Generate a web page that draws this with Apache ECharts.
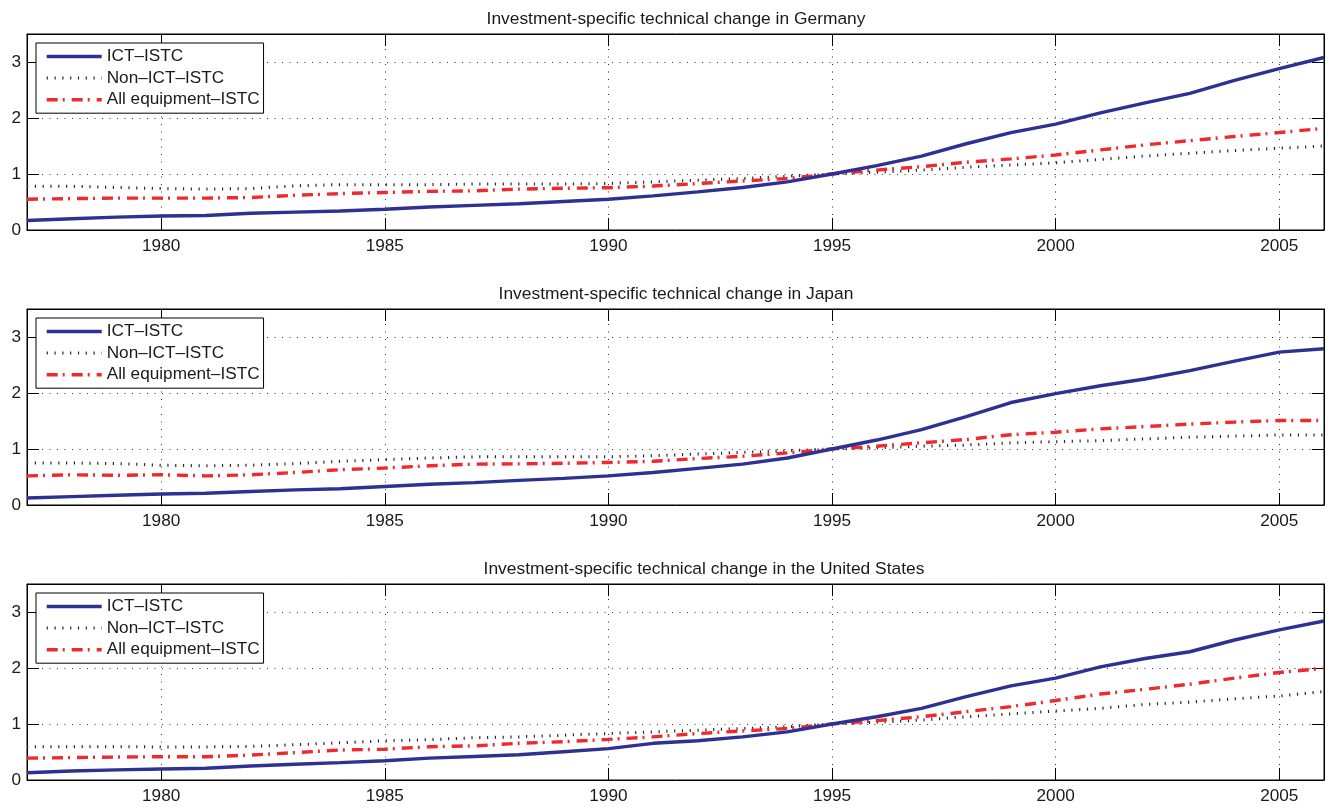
<!DOCTYPE html>
<html>
<head>
<meta charset="utf-8">
<script src="https://cdn.jsdelivr.net/npm/echarts@6/dist/echarts.min.js"></script>
<style>
html,body{margin:0;padding:0;background:#fff;}
#chart{width:1331px;height:808px;}
</style>
</head>
<body>
<div id="chart"></div>
<script>
// ---- data ----
var years = [1977,1978,1979,1980,1981,1982,1983,1984,1985,1986,1987,1988,1989,1990,1991,1992,1993,1994,1995,1996,1997,1998,1999,2000,2001,2002,2003,2004,2005,2006];

var seriesNames = ['ICT\u2013ISTC', 'Non\u2013ICT\u2013ISTC', 'All equipment\u2013ISTC'];
var panelTitles = [
  'Investment-specific technical change in Germany',
  'Investment-specific technical change in Japan',
  'Investment-specific technical change in the United States'
];
var yTicks = [0, 1, 2, 3];
var xTickYears = [1980, 1985, 1990, 1995, 2000, 2005];

var germanyICT    = [0.17,0.20,0.23,0.25,0.26,0.30,0.32,0.34,0.37,0.41,0.44,0.47,0.51,0.55,0.61,0.68,0.76,0.86,1.00,1.15,1.32,1.54,1.74,1.89,2.09,2.27,2.44,2.67,2.88,3.08];
var germanyNonICT = [0.78,0.78,0.76,0.74,0.73,0.74,0.79,0.81,0.81,0.81,0.82,0.82,0.82,0.83,0.86,0.89,0.92,0.96,1.00,1.03,1.07,1.12,1.16,1.20,1.26,1.32,1.37,1.42,1.46,1.50];
var germanyAll    = [0.55,0.56,0.57,0.57,0.57,0.58,0.62,0.65,0.67,0.69,0.70,0.73,0.745,0.755,0.785,0.83,0.875,0.92,1.00,1.07,1.13,1.21,1.27,1.34,1.43,1.52,1.595,1.67,1.74,1.815];

var japanICT      = [0.125,0.15,0.175,0.196,0.21,0.24,0.27,0.29,0.33,0.37,0.40,0.44,0.475,0.52,0.58,0.655,0.73,0.84,1.00,1.16,1.345,1.58,1.83,1.99,2.13,2.25,2.40,2.57,2.73,2.79];
var japanNonICT   = [0.75,0.75,0.74,0.71,0.70,0.71,0.74,0.78,0.81,0.84,0.86,0.86,0.86,0.86,0.88,0.91,0.94,0.97,1.00,1.02,1.05,1.07,1.11,1.13,1.15,1.18,1.21,1.23,1.25,1.25];
var japanAll      = [0.52,0.54,0.53,0.54,0.52,0.54,0.58,0.63,0.66,0.70,0.73,0.735,0.745,0.76,0.78,0.83,0.87,0.93,1.00,1.05,1.11,1.17,1.255,1.30,1.36,1.40,1.445,1.48,1.51,1.51];

var usICT         = [0.13,0.16,0.18,0.196,0.21,0.25,0.28,0.31,0.345,0.39,0.42,0.45,0.505,0.56,0.655,0.70,0.77,0.86,1.00,1.13,1.28,1.49,1.68,1.82,2.02,2.17,2.29,2.50,2.68,2.84];
var usNonICT      = [0.595,0.595,0.595,0.59,0.59,0.60,0.63,0.665,0.70,0.72,0.755,0.77,0.80,0.83,0.86,0.89,0.92,0.95,1.00,1.03,1.07,1.13,1.18,1.23,1.28,1.35,1.39,1.45,1.50,1.58];
var usAll         = [0.39,0.40,0.41,0.415,0.415,0.445,0.49,0.535,0.55,0.595,0.61,0.655,0.685,0.725,0.77,0.83,0.875,0.92,1.00,1.06,1.13,1.22,1.31,1.42,1.535,1.62,1.71,1.82,1.92,1.995];

// ---- layout / style ----
var FONT = '"Liberation Sans", Arial, Helvetica, sans-serif';
var TXT = '#1a1a1a';
var panels = [
  {title: panelTitles[0], titleX: 671, titleTop: 4,   gridTop: 34,  legendTop: 43,  data: [germanyICT, germanyNonICT, germanyAll]},
  {title: panelTitles[1], titleX: 671, titleTop: 279, gridTop: 309, legendTop: 318, data: [japanICT, japanNonICT, japanAll]},
  {title: panelTitles[2], titleX: 699, titleTop: 554, gridTop: 584, legendTop: 593, data: [usICT, usNonICT, usAll]}
];
var GRID_LEFT = 27, GRID_W = 1297, GRID_H = 196;

var lineStyles = [
  {color: '#2e3192', width: 3.4, type: 'solid'},
  {color: '#2a2a2a', width: 3, type: [1.2, 6.6], cap: 'butt'},
  {color: '#ee2a2f', width: 3.4, type: [11, 5, 2, 7], cap: 'butt'}
];

function pairs(vals) {
  return years.map(function (y, i) { return [y, vals[i]]; });
}

var option = {
  animation: false,
  backgroundColor: '#fff',
  title: [], grid: [], xAxis: [], yAxis: [], legend: [], series: []
};

panels.forEach(function (p, k) {
  option.title.push({
    text: p.title, left: p.titleX, top: p.titleTop, textAlign: 'center',
    textStyle: {fontFamily: FONT, fontSize: 17.4, fontWeight: 'normal', color: TXT, lineHeight: 20}
  });
  option.grid.push({
    left: GRID_LEFT, top: p.gridTop, width: GRID_W, height: GRID_H,
    show: true, borderColor: '#000', borderWidth: 1, backgroundColor: '#fff'
  });
  option.xAxis.push({
    type: 'value', gridIndex: k, min: 1977, max: 2006, position: 'bottom',
    axisLine: {show: true, onZero: false, lineStyle: {color: '#000', width: 1}},
    axisTick: {show: true, inside: true, length: 12, lineStyle: {color: '#000'}},
    axisLabel: {show: true, margin: 8, showMinLabel: false, showMaxLabel: false,
      fontFamily: FONT, fontSize: 17.2, color: TXT,
      formatter: function (v) { return xTickYears.indexOf(v) >= 0 ? String(v) : ''; }},
    splitLine: {show: true, lineStyle: {color: '#333', width: 1, type: [1, 6.5]}}
  });
  option.xAxis.push({
    type: 'value', gridIndex: k, min: 1977, max: 2006, position: 'top',
    axisLine: {show: true, onZero: false, lineStyle: {color: '#000', width: 1}},
    axisTick: {show: true, inside: true, length: 12, lineStyle: {color: '#000'}},
    axisLabel: {show: false}, splitLine: {show: false}
  });
  option.yAxis.push({
    type: 'value', gridIndex: k, min: 0, max: 3.5, interval: 1, position: 'left',
    axisLine: {show: true, onZero: false, lineStyle: {color: '#000', width: 1}},
    axisTick: {show: true, inside: true, length: 12, lineStyle: {color: '#000'}},
    axisLabel: {show: true, margin: 6, showMaxLabel: false,
      fontFamily: FONT, fontSize: 17.2, color: TXT,
      formatter: function (v) { return yTicks.indexOf(v) >= 0 ? String(v) : ''; }},
    splitLine: {show: true, lineStyle: {color: '#333', width: 1, type: [1, 6.5]}}
  });
  option.yAxis.push({
    type: 'value', gridIndex: k, min: 0, max: 3.5, interval: 1, position: 'right',
    axisLine: {show: true, onZero: false, lineStyle: {color: '#000', width: 1}},
    axisTick: {show: true, inside: true, length: 12, lineStyle: {color: '#000'}},
    axisLabel: {show: false}, splitLine: {show: false}
  });
  option.legend.push({
    orient: 'vertical', left: 36, top: p.legendTop,
    data: seriesNames.map(function (n, s) {
      return {name: n, lineStyle: {width: lineStyles[s].width, type: lineStyles[s].type, color: lineStyles[s].color}};
    }),
    itemWidth: 55, itemHeight: 17, itemGap: 4.6,
    padding: [5, 4, 5, 9],
    borderColor: '#000', borderWidth: 1, backgroundColor: '#fff',
    selectedMode: false,
    itemStyle: {opacity: 0, borderWidth: 0},
    textStyle: {fontFamily: FONT, fontSize: 17.2, color: TXT, lineHeight: 17}
  });
  [1, 2, 0].forEach(function (s) {
    option.series.push({
      name: seriesNames[s], type: 'line',
      xAxisIndex: 2 * k, yAxisIndex: 2 * k,
      data: pairs(p.data[s]),
      showSymbol: false, symbol: 'none', smooth: false,
      lineStyle: lineStyles[s],
      itemStyle: {color: lineStyles[s].color},
      emphasis: {disabled: true},
      z: 3
    });
  });
});

var chart = echarts.init(document.getElementById('chart'), null, {renderer: 'canvas'});
chart.setOption(option);
</script>
</body>
</html>
